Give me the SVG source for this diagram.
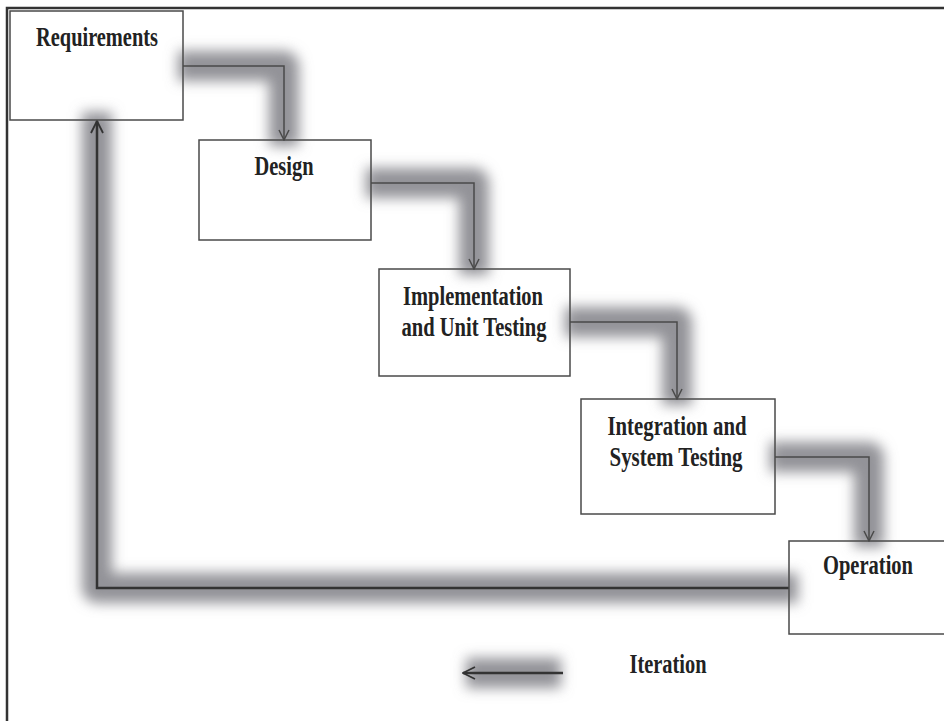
<svg xmlns="http://www.w3.org/2000/svg" width="944" height="721" viewBox="0 0 944 721">
  <style>
    .box { fill: none; stroke: #4a4a4a; stroke-width: 1.5; }
    .lbl { font-family: "Liberation Serif", "Times New Roman", serif; font-weight: bold; font-size: 27px; fill: #222; text-anchor: middle; }
    .flow { fill: none; stroke: #4a4a4a; stroke-width: 1.5; marker-end: url(#open); }
    .back { fill: none; stroke: #333; stroke-width: 2.5; marker-end: url(#open2); }
    .glow { fill: none; stroke: #939398; stroke-width: 30; stroke-linejoin: round; filter: url(#soft); }
  </style>
  <defs>
    <filter id="soft" filterUnits="userSpaceOnUse" x="0" y="0" width="944" height="721">
      <feGaussianBlur stdDeviation="6.5"/>
    </filter>
    <marker id="open" viewBox="0 0 12 12" refX="11" refY="6" markerWidth="12" markerHeight="12" markerUnits="userSpaceOnUse" orient="auto">
      <path d="M1 1 L11 6 L1 11" fill="none" stroke="#4a4a4a" stroke-width="1.5"/>
    </marker>
    <marker id="open2" viewBox="0 0 14 14" refX="13" refY="7" markerWidth="14" markerHeight="14" markerUnits="userSpaceOnUse" orient="auto">
      <path d="M1 1 L13 7 L1 13" fill="none" stroke="#333" stroke-width="1.8"/>
    </marker>
  </defs>

  <rect width="944" height="721" fill="#fff"/>
  <!-- page frame (top and left edges) -->
  <path d="M7 721 V8 H944" fill="none" stroke="#333" stroke-width="2.5"/>

  <!-- soft bands behind the connectors -->
  <g id="glows">
    <path class="glow" d="M178 66 H284 V146"/>
    <path class="glow" d="M366 183 H474 V275"/>
    <path class="glow" d="M565 322 H677 V405"/>
    <path class="glow" d="M770 457 H869 V547"/>
    <path class="glow" d="M798 588 H97 V112"/>
    <path class="glow" d="M466 673 H561"/>
  </g>

  <g id="connectors">
    <path class="flow" d="M183 66 H284 V140"/>
    <path class="flow" d="M371 183 H474 V269"/>
    <path class="flow" d="M570 322 H677 V399"/>
    <path class="flow" d="M775 457 H869 V541"/>
    <path class="back" d="M789 588 H97 V121"/>
    <path class="back" d="M563 673 H463"/>
  </g>

  <g id="requirements">
    <rect class="box" x="10" y="11" width="173" height="109"/>
    <text class="lbl" x="97" y="46" textLength="122" lengthAdjust="spacingAndGlyphs">Requirements</text>
  </g>
  <g id="design">
    <rect class="box" x="199" y="140" width="172" height="100"/>
    <text class="lbl" x="284" y="175" textLength="59" lengthAdjust="spacingAndGlyphs">Design</text>
  </g>
  <g id="implementation">
    <rect class="box" x="379" y="269" width="191" height="107"/>
    <text class="lbl" x="473" y="305" textLength="140" lengthAdjust="spacingAndGlyphs">Implementation</text>
    <text class="lbl" x="474" y="336" textLength="145" lengthAdjust="spacingAndGlyphs">and Unit Testing</text>
  </g>
  <g id="integration">
    <rect class="box" x="581" y="399" width="194" height="115"/>
    <text class="lbl" x="677" y="435" textLength="139" lengthAdjust="spacingAndGlyphs">Integration and</text>
    <text class="lbl" x="676" y="466" textLength="133" lengthAdjust="spacingAndGlyphs">System Testing</text>
  </g>
  <g id="operation">
    <rect class="box" x="789" y="541" width="160" height="93"/>
    <text class="lbl" x="868" y="574" textLength="90" lengthAdjust="spacingAndGlyphs">Operation</text>
  </g>
  <g id="legend">
    <text class="lbl" x="668" y="673" textLength="77" lengthAdjust="spacingAndGlyphs">Iteration</text>
  </g>
</svg>
